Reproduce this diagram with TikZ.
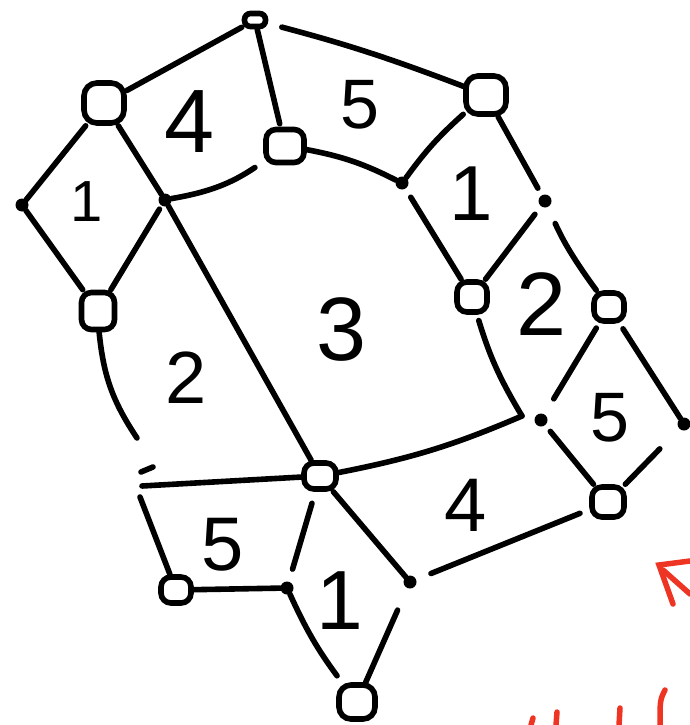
\documentclass[tikz,border=0pt]{standalone}
\usepackage{fontspec}
\setmainfont{Liberation Sans}
\begin{document}
\begin{tikzpicture}[x=1pt,y=-1pt,
  ln/.style={line width=5.6pt, line cap=round},
  vb/.style={draw, line width=5.6pt, rounded corners=10pt, inner sep=0pt},
  dt/.style={circle, fill, inner sep=0pt, minimum size=13pt},
  lbl/.style={inner sep=0pt},
  rs/.style={draw=redmark, line width=5.5pt, line cap=round}]
\definecolor{redmark}{HTML}{EE3524}
\useasboundingbox (0,0) rectangle (690,725);
% vertices (open)
\node[vb, minimum width=21pt, minimum height=13pt, rounded corners=6pt] (A) at (255,20) {};
\node[vb, minimum width=40pt, minimum height=40pt, rounded corners=13pt] (B) at (104,103) {};
\node[vb, minimum width=38pt, minimum height=33pt] (C) at (285,146) {};
\node[vb, minimum width=40pt, minimum height=38pt, rounded corners=12pt] (D) at (486,95) {};
\node[vb, minimum width=33pt, minimum height=37pt] (E) at (98,311) {};
\node[vb, minimum width=30pt, minimum height=30pt] (F) at (472,297) {};
\node[vb, minimum width=30pt, minimum height=28pt] (G) at (609,307) {};
\node[vb, minimum width=32pt, minimum height=26pt] (H) at (320,476) {};
\node[vb, minimum width=32pt, minimum height=30pt] (I) at (608,502) {};
\node[vb, minimum width=30pt, minimum height=26pt] (J) at (176,590) {};
\node[vb, minimum width=36pt, minimum height=34pt, rounded corners=12pt] (K) at (357,702) {};
% vertices (dots)
\node[dt] (L) at (22,205) {};
\node[dt] (M) at (165,200) {};
\node[dt] (N) at (402,183) {};
\node[dt] (O) at (545,201) {};
\node[dt] (P) at (541,420) {};
\node[dt] (Q) at (684,424) {};
\node[dt] (S) at (287,588) {};
\node[dt] (T) at (410,582) {};
% free ends
\coordinate (Z) at (522,416);
\coordinate (R1) at (137,438);
\coordinate (R2) at (142,486);
\coordinate (R3) at (140,497);
\coordinate (Rd1) at (141,472);
\coordinate (Rd2) at (153,467);
% edges
\draw[ln] (A) -- (B);
\draw[ln, shorten >=3pt] (A) -- (C);
\draw[ln, shorten <=14pt] (A) to[bend left=3] (D);
\draw[ln] (B) -- (L);
\draw[ln] (L) -- (E);
\draw[ln] (B) -- (M);
\draw[ln, shorten >=10pt] (M) to[bend right=12] (C);
\draw[ln, shorten <=4pt] (M) -- (E);
\draw[ln] (M) -- (H);
\draw[ln] (C) to[bend left=8] (N);
\draw[ln] (D) to[bend right=6] (N);
\draw[ln, shorten >=8pt] (D) -- (O);
\draw[ln, shorten <=10pt] (N) -- (F);
\draw[ln, shorten <=10pt] (O) -- (F);
\draw[ln, shorten <=18pt] (O) to[bend right=6] (G);
\draw[ln, shorten <=6pt] (F) to[bend right=7] (Z);
\draw[ln] (Z) to[bend left=6] (H);
\draw[ln, shorten <=5pt, shorten >=18pt] (G) -- (P);
\draw[ln, shorten <=6pt] (G) -- (Q);
\draw[ln, shorten <=8pt] (P) -- (I);
\draw[ln, shorten <=28pt] (Q) -- (I);
\draw[ln, shorten <=10pt, shorten >=16pt] (I) -- (T);
\draw[ln] (H) -- (T);
\draw[ln, shorten <=12pt, shorten >=13pt] (H) -- (S);
\draw[ln] (J) -- (S);
\draw[ln, shorten >=8pt] (S) to[bend right=6] (K);
\draw[ln, shorten <=24pt] (T) -- (K);
\draw[ln] (E) to[bend right=14] (R1);
\draw[ln] (R2) -- (H);
\draw[ln] (R3) -- (J);
\draw[ln] (Rd1) -- (Rd2);
% face labels
\node[lbl, font=\fontsize{90}{90}\selectfont] (l3) at (342,330) {3};
\node[lbl, font=\fontsize{90}{90}\selectfont] (l4a) at (190,122) {4};
\node[lbl, font=\fontsize{70}{70}\selectfont] (l5a) at (360,105) {5};
\node[lbl, font=\fontsize{58}{58}\selectfont] (l1a) at (87,202) {1};
\node[lbl, font=\fontsize{74}{74}\selectfont] (l2a) at (186,378) {2};
\node[lbl, font=\fontsize{78}{78}\selectfont] (l1b) at (471,194) {1};
\node[lbl, font=\fontsize{90}{90}\selectfont] (l2b) at (542,304) {2};
\node[lbl, font=\fontsize{70}{70}\selectfont] (l5b) at (610,418) {5};
\node[lbl, font=\fontsize{76}{76}\selectfont] (l4b) at (466,505) {4};
\node[lbl, font=\fontsize{76}{76}\selectfont] (l5c) at (223,545) {5};
\node[lbl, font=\fontsize{84}{84}\selectfont] (l1c) at (340,601) {1};
% red marks at the edge
\draw[rs] (690,561) -- (659,565) -- (673,604);
\draw[rs] (663,570) -- (690,594);
\draw[rs] (531,725) -- (533,718);
\draw[rs] (556,725) -- (557,712);
\draw[rs] (619,725) -- (620,708);
\draw[rs] (665,690) .. controls (660,700) .. (660,725);
\end{tikzpicture}
\end{document}
